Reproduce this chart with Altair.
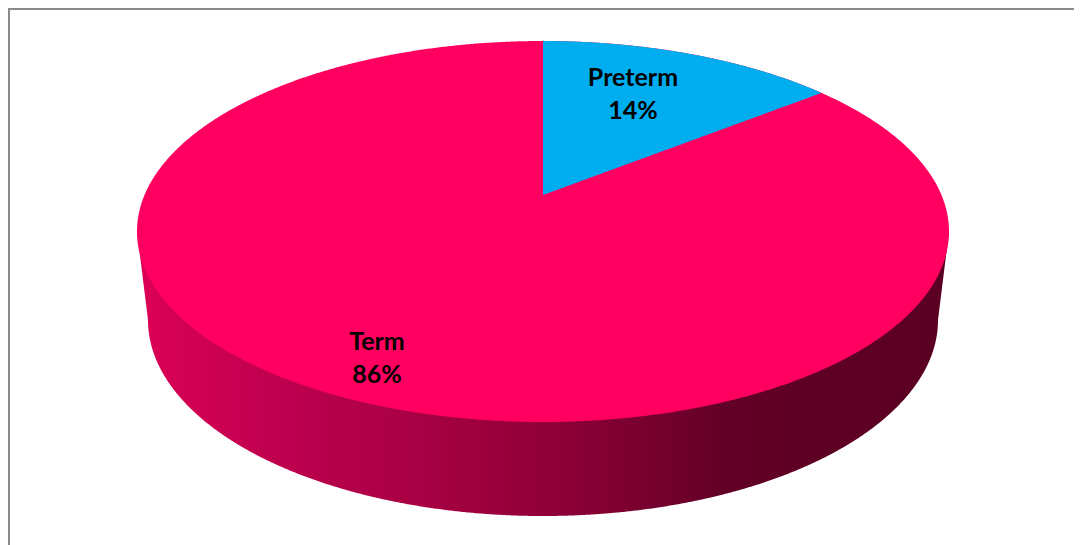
import numpy as np
import pandas as pd
import altair as alt

# Data
categories = ["Preterm", "Term"]
shares = [14.3, 85.7]

# Drawing geometry of the tilted disc, in page pixels
W, H = 1074, 545
cx = 543
top_y, bottom_y, half_w = 41, 422, 406
apex_y = 195
low_cy, low_a, low_b = 320, 395, 196
cy = (top_y + bottom_y) / 2
half_h = (bottom_y - top_y) / 2
up, down = apex_y - top_y, bottom_y - apex_y
k = (down - up) / (down + up)
B = up * (1 + k)
A = half_w * np.sqrt(1 - k * k)


def project(theta):
    u, v = np.sin(theta), np.cos(theta)
    return cx + A * u / (1 + k * v), apex_y - B * v / (1 + k * v)


x_scale = alt.Scale(domain=[8, W], range=[0, W - 8], nice=False, zero=False)
y_scale = alt.Scale(domain=[8, H], range=[0, H - 8], nice=False, zero=False)
X = lambda f: alt.X(f, type="quantitative", scale=x_scale, axis=None)
Y = lambda f: alt.Y(f, type="quantitative", scale=y_scale, axis=None)

# Top face
t = np.linspace(-np.pi / 2, np.pi / 2, 721)
xs = cx + half_w * np.sin(t)
face = pd.DataFrame({"x": xs, "y": cy - half_h * np.cos(t), "y2": cy + half_h * np.cos(t)})

# Side wall: lower rim of the disc with straight silhouettes at both ends
xw = np.concatenate([[cx - half_w], cx + low_a * np.sin(t), [cx + half_w]])
yw = low_cy + low_b * np.sqrt(np.clip(1 - ((xw - cx) / low_a) ** 2, 0, 1))
yw[0] = yw[-1] = cy
wall = pd.DataFrame({"x": xw, "y": cy, "y2": yw})

# Wedge of the first category
theta_end = 2 * np.pi * shares[0] / sum(shares)
th = np.linspace(0, theta_end, 121)
wx, wy = project(th)
wedge = pd.DataFrame({
    "x": wx,
    "y": wy,
    "y2": apex_y + (wy[-1] - apex_y) * (wx - cx) / (wx[-1] - cx),
})

labels = pd.DataFrame({
    "label": [f"{c}\n{round(s)}%" for c, s in zip(categories, shares)],
    "x": [633, 377],
    "y": [78, 342],
})

stops = [
    alt.GradientStop(offset=0.0, color="#dc0056"),
    alt.GradientStop(offset=0.2, color="#bb004e"),
    alt.GradientStop(offset=0.49, color="#940038"),
    alt.GradientStop(offset=0.73, color="#620026"),
    alt.GradientStop(offset=1.0, color="#5a0022"),
]
wall_layer = alt.Chart(wall).mark_area(
    color=alt.Gradient(gradient="linear", stops=stops, x1=0, x2=1, y1=0, y2=0)
).encode(x=X("x"), y=Y("y"), y2="y2")

face_layer = alt.Chart(face).mark_area(color="#ff0060").encode(x=X("x"), y=Y("y"), y2="y2")
wedge_layer = alt.Chart(wedge).mark_area(color="#00adef").encode(x=X("x"), y=Y("y"), y2="y2")

text_layer = alt.Chart(labels).mark_text(
    font="Lato", fontWeight="bold", fontSize=25, color="#000000",
    lineBreak="\n", lineHeight=33, align="center", baseline="middle",
).encode(x=X("x"), y=Y("y"), text="label:N")

border = pd.DataFrame({"x": [9], "y": [9], "x0": [8], "x1": [W], "y0": [8], "y1": [H]})
top_rule = alt.Chart(border).mark_rule(color="#8a8a8a", strokeWidth=2).encode(
    x=X("x0"), x2="x1", y=Y("y"))
left_rule = alt.Chart(border).mark_rule(color="#8a8a8a", strokeWidth=2).encode(
    x=X("x"), y=Y("y0"), y2="y1")

chart = alt.layer(
    top_rule, left_rule, wall_layer, face_layer, wedge_layer, text_layer
).properties(
    width=W - 8, height=H - 8, autosize=alt.AutoSizeParams(type="none"), padding=0
).configure_view(stroke=None).configure(background="#ffffff")

chart.save("out.html", embed_options={"renderer": "svg", "actions": False})
